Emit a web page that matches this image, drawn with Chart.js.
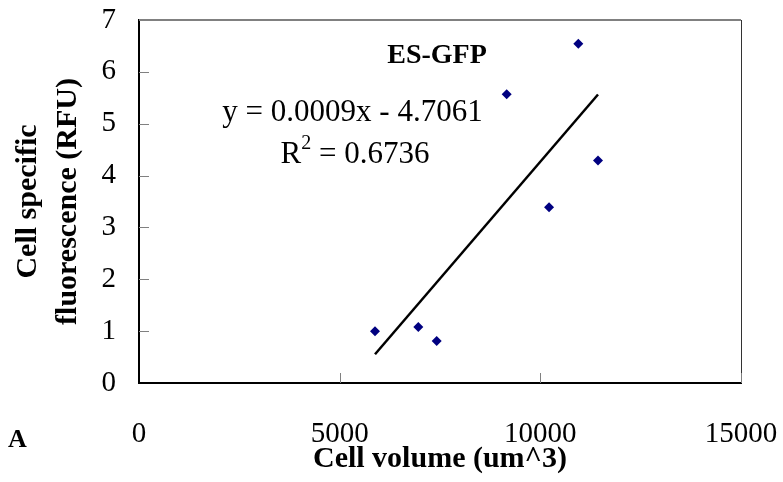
<!DOCTYPE html>
<html>
<head>
<meta charset="utf-8">
<script src="https://cdn.jsdelivr.net/npm/chart.js@4"></script>
<style>
  body { margin: 0; background: #fff; }
</style>
</head>
<body>
<canvas id="myChart" width="783" height="482"></canvas>
<script>
// cell volume (um^3) and cell specific fluorescence (RFU)
const volumes = [5881, 6960, 7418, 9162, 10217, 10946, 11437];
const fluorescence = [1.0, 1.08, 0.81, 5.57, 3.39, 6.54, 4.29];
const xTicks = [0, 5000, 10000, 15000];
const yTicks = [0, 1, 2, 3, 4, 5, 6, 7];
const title = "ES-GFP";
const equation = "y = 0.0009x - 4.7061";
const rSquared = "0.6736";

// least squares trend line over the data range
function trendLine(xs, ys) {
  const n = xs.length;
  let mx = 0, my = 0;
  for (let i = 0; i < n; i++) { mx += xs[i]; my += ys[i]; }
  mx /= n; my /= n;
  let sxy = 0, sxx = 0;
  for (let i = 0; i < n; i++) {
    sxy += (xs[i] - mx) * (ys[i] - my);
    sxx += (xs[i] - mx) * (xs[i] - mx);
  }
  const slope = sxy / sxx;
  const icpt = my - slope * mx;
  const x0 = Math.min(...xs), x1 = Math.max(...xs);
  return [{ x: x0, y: slope * x0 + icpt }, { x: x1, y: slope * x1 + icpt }];
}

const points = volumes.map((v, i) => ({ x: v, y: fluorescence[i] }));
const serif = "'Liberation Serif', 'Times New Roman', serif";

// inner ticks, top/right frame and the text labels
const extras = {
  id: "extras",
  afterDraw(chart) {
    const { ctx, chartArea: a, scales } = chart;
    ctx.save();
    ctx.strokeStyle = "#808080";
    ctx.lineWidth = 2;
    ctx.beginPath();
    ctx.moveTo(a.left, a.top);
    ctx.lineTo(a.right, a.top);
    ctx.stroke();
    ctx.strokeStyle = "#333";
    ctx.lineWidth = 1;
    ctx.beginPath();
    ctx.moveTo(a.right + 0.5, a.top);
    ctx.lineTo(a.right + 0.5, a.bottom);
    ctx.stroke();

    ctx.strokeStyle = "#808080";
    ctx.lineWidth = 1;
    yTicks.forEach(t => {
      if (t === 0 || t === 7) return;
      const y = Math.round(scales.y.getPixelForValue(t)) + 0.5;
      ctx.beginPath();
      ctx.moveTo(a.left, y);
      ctx.lineTo(a.left + 10, y);
      ctx.stroke();
    });
    xTicks.forEach(t => {
      if (t === 0) return;
      const x = Math.round(scales.x.getPixelForValue(t)) + 0.5;
      ctx.beginPath();
      ctx.moveTo(x, a.bottom);
      ctx.lineTo(x, a.bottom - 10);
      ctx.stroke();
    });

    ctx.fillStyle = "#000";
    ctx.textAlign = "center";
    ctx.textBaseline = "middle";
    ctx.font = "bold 28px " + serif;
    ctx.fillText(title, scales.x.getPixelForValue(7425), scales.y.getPixelForValue(6.31));
    ctx.font = "31px " + serif;
    ctx.fillText(equation, scales.x.getPixelForValue(5320), scales.y.getPixelForValue(5.21));

    // R squared with superscript 2
    const rx = scales.x.getPixelForValue(5382);
    const ry = scales.y.getPixelForValue(4.4);
    const partA = "R";
    const partB = " = " + rSquared;
    ctx.font = "31px " + serif;
    const wA = ctx.measureText(partA).width;
    const wB = ctx.measureText(partB).width;
    ctx.font = "20px " + serif;
    const wS = ctx.measureText("2").width;
    let x = rx - (wA + wS + wB) / 2;
    ctx.textAlign = "left";
    ctx.font = "31px " + serif;
    ctx.fillText(partA, x, ry);
    ctx.font = "20px " + serif;
    ctx.fillText("2", x + wA, ry - 11);
    ctx.font = "31px " + serif;
    ctx.fillText(partB, x + wA + wS, ry);

    ctx.font = "bold 26px " + serif;
    ctx.fillText("A", 8, 440);
    ctx.restore();
  }
};

new Chart(document.getElementById("myChart"), {
  type: "scatter",
  data: {
    datasets: [
      {
        label: "ES-GFP",
        data: points,
        pointStyle: "rectRot",
        pointRadius: 5,
        pointHoverRadius: 5,
        backgroundColor: "#000080",
        borderColor: "#000080",
        borderWidth: 0,
      },
      {
        label: "Linear",
        type: "line",
        data: trendLine(volumes, fluorescence),
        borderColor: "#000",
        borderWidth: 2.5,
        pointRadius: 0,
        fill: false,
      },
    ],
  },
  options: {
    responsive: false,
    animation: false,
    layout: { padding: { top: 20, right: 42, left: 0, bottom: 0 } },
    plugins: {
      legend: { display: false },
      tooltip: { enabled: false },
    },
    scales: {
      x: {
        type: "linear",
        min: 0,
        max: 15000,
        afterBuildTicks: s => { s.ticks = xTicks.map(v => ({ value: v })); },
        afterFit: s => {
          s.height = 99;
          s.paddingLeft = 0;
          s.paddingRight = 0;
        },
        grid: { display: false },
        border: { color: "#000", width: 2 },
        ticks: {
          color: "#000",
          padding: 26,
          maxRotation: 0,
          font: { family: serif, size: 29 },
          callback: v => String(v),
        },
        title: {
          display: true,
          text: "Cell volume (um^3)",
          color: "#000",
          padding: { top: 0, bottom: 5 },
          font: { family: serif, size: 30, weight: "bold" },
        },
      },
      y: {
        min: 0,
        max: 7,
        afterBuildTicks: s => { s.ticks = yTicks.map(v => ({ value: v })); },
        afterFit: s => {
          s.width = 139;
          s.paddingTop = 0;
          s.paddingBottom = 0;
        },
        grid: { display: false },
        border: { color: "#000", width: 2 },
        ticks: {
          color: "#000",
          padding: 15,
          font: { family: serif, size: 29 },
        },
        title: {
          display: true,
          text: ["Cell specific", "fluorescence (RFU)"],
          color: "#000",
          padding: { top: 8, bottom: 0 },
          font: { family: serif, size: 30, weight: "bold", lineHeight: 1.33 },
        },
      },
    },
  },
  plugins: [extras],
});
</script>
</body>
</html>
